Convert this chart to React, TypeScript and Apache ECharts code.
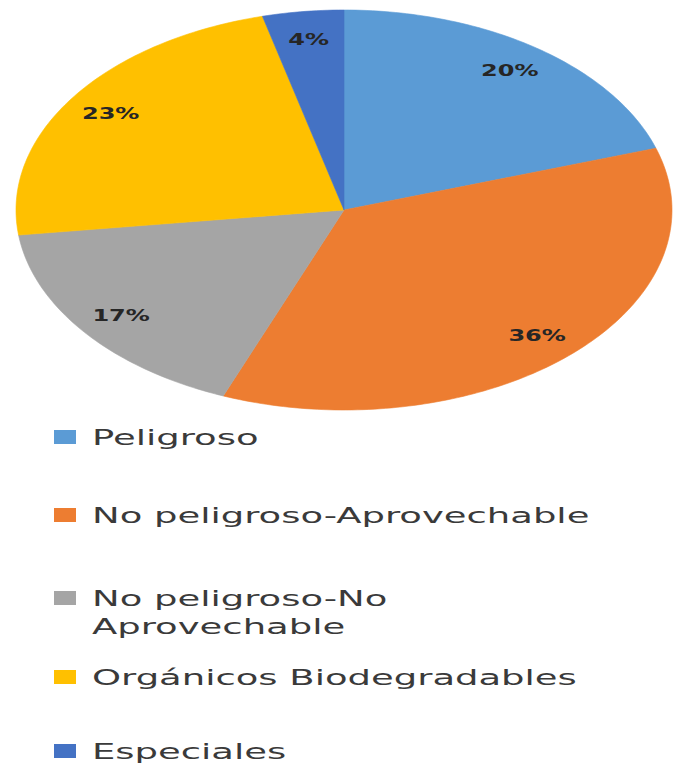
import React, { useEffect, useRef } from "react";
import * as echarts from "echarts";

// ---- data ----
const categories = [
  "Peligroso",
  "No peligroso-Aprovechable",
  "No peligroso-No Aprovechable",
  "Orgánicos Biodegradables",
  "Especiales",
];
const percentages = [20, 36, 17, 23, 4];
const colors = ["#5B9BD5", "#ED7D31", "#A5A5A5", "#FFC000", "#4472C4"];

// ---- layout ----
const CX = 344;
const CY = 210;
const RX = 328;
const RY = 200;
const LABEL_R = 0.86;
const LEGEND_ICON_X = 54;
const LEGEND_TEXT_X = 92;
const LEGEND_Y = [437, 515, 598, 677, 751];
const LEGEND_LINE_H = 28;
const TEXT_STRETCH = 1.68;

export default function App() {
  const ref = useRef<HTMLDivElement>(null);

  useEffect(() => {
    document.body.style.margin = "0";
    const chart = echarts.init(ref.current!, null, { renderer: "svg" });
    const total = percentages.reduce((a, b) => a + b, 0);
    const cum: number[] = [];
    percentages.reduce((acc, v, i) => {
      cum[i] = acc;
      return acc + v;
    }, 0);

    const series = categories.map((name, i) => ({
      type: "custom",
      name,
      coordinateSystem: "none",
      data: [[percentages[i]]],
      renderItem: (params: any, api: any) => {
        const si = params.seriesIndex;
        const v = api.value(0);
        const start = (cum[si] / total) * Math.PI * 2;
        const end = ((cum[si] + v) / total) * Math.PI * 2;
        const n = Math.max(8, Math.ceil((end - start) / (Math.PI / 180)));
        const pts: number[][] = [[CX, CY]];
        for (let k = 0; k <= n; k++) {
          const a = start + ((end - start) * k) / n;
          pts.push([CX + RX * Math.sin(a), CY - RY * Math.cos(a)]);
        }
        const mid = (start + end) / 2;
        return {
          type: "group",
          children: [
            {
              type: "polygon",
              shape: { points: pts },
              style: { fill: colors[si], stroke: colors[si], lineWidth: 0.6 },
            },
            {
              type: "text",
              x: CX + RX * LABEL_R * Math.sin(mid),
              y: CY - RY * LABEL_R * Math.cos(mid),
              scaleX: 1.6,
              style: {
                text: v + "%",
                font: 'bold 15px "DejaVu Sans"',
                fill: "#262626",
                align: "center",
                verticalAlign: "middle",
              },
              z2: 10,
            },
          ],
        };
      },
    }));

    const legendGraphics: any[] = [];
    categories.forEach((name, i) => {
      const y = LEGEND_Y[i];
      legendGraphics.push({
        type: "rect",
        shape: { x: LEGEND_ICON_X, y: y - 7, width: 22, height: 14 },
        style: { fill: colors[i] },
      });
      legendGraphics.push({
        type: "text",
        x: LEGEND_TEXT_X,
        y: y - LEGEND_LINE_H / 2,
        scaleX: TEXT_STRETCH,
        style: {
          text: name.replace("-No ", "-No\n"),
          font: '22px "DejaVu Sans"',
          lineHeight: LEGEND_LINE_H,
          fill: "#3a3a3a",
          align: "left",
          verticalAlign: "top",
        },
      });
    });

    chart.setOption({
      animation: false,
      backgroundColor: "#ffffff",
      series,
      graphic: legendGraphics,
    });
    return () => chart.dispose();
  }, []);

  return <div ref={ref} style={{ width: 675, height: 766 }} />;
}
